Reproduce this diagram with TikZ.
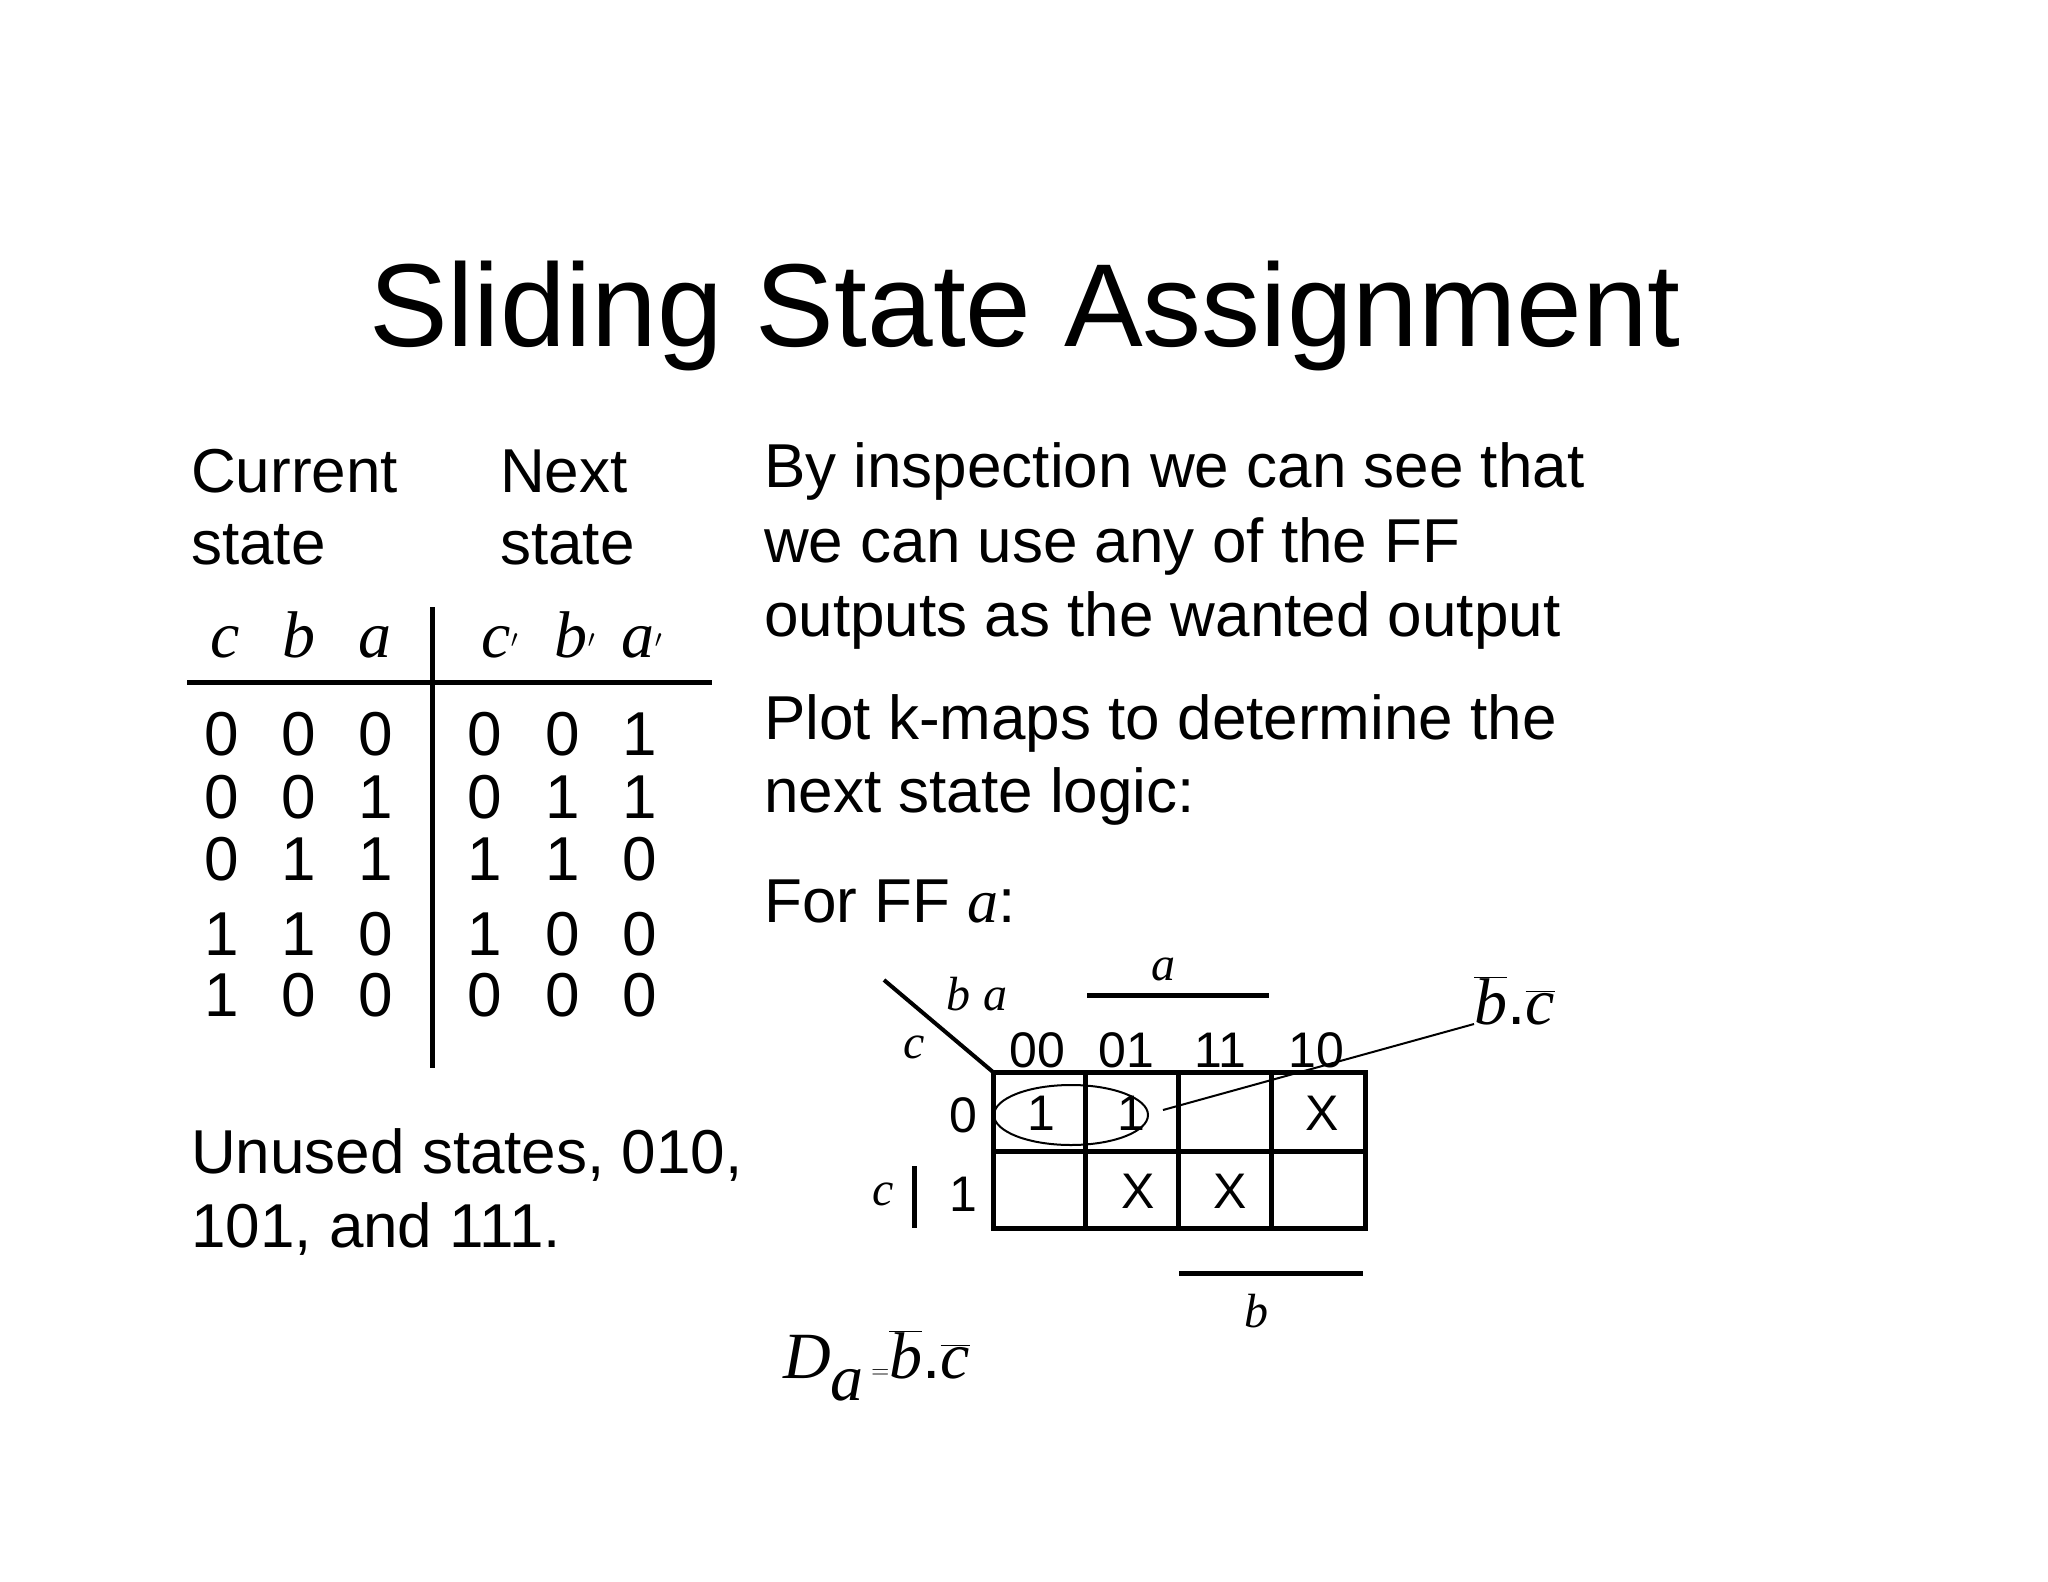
\documentclass[tikz,border=0pt]{standalone}
\usepackage{fontspec}
\setmainfont{Liberation Sans}
\newfontfamily\tms{Liberation Serif}
\newcommand{\iv}[1]{{\tms\itshape #1}}
\newcommand{\ov}[1]{$\overline{\hbox{\iv{#1}}}$}
\begin{document}
\begin{tikzpicture}[x=1pt,y=-1pt,
  body/.style={font=\fontsize{62}{74}\selectfont,anchor=base west,inner sep=0},
  dig/.style={font=\fontsize{62}{74}\selectfont,anchor=base,inner sep=0},
  mth/.style={font=\fontsize{66}{74}\selectfont,anchor=base,inner sep=0},
  sml/.style={font=\fontsize{48}{58}\selectfont,anchor=base,inner sep=0},
  km/.style={font=\fontsize{50}{58}\selectfont,anchor=base,inner sep=0},
  thick3/.style={line width=5pt}]
\useasboundingbox (0,0) rectangle (2048,1582);
\fill[white] (0,0) rectangle (2048,1582);
\node[font=\fontsize{118}{130}\selectfont,anchor=base,inner sep=0] (title) at (1025,346) {Sliding State Assignment};
\node[body] (cur1) at (191,492) {Current};
\node[body] (cur2) at (191,564) {state};
\node[body] (nx1) at (500,492) {Next};
\node[body] (nx2) at (500,564) {state};
\node[mth] (hc) at (225,657) {\iv{c}};
\node[mth] (hb) at (299,657) {\iv{b}};
\node[mth] (ha) at (375,657) {\iv{a}};
\node[mth] (hc2) at (500,657) {\iv{c}$'$};
\node[mth] (hb2) at (575,657) {\iv{b}$'$};
\node[mth] (ha2) at (642,657) {\iv{a}$'$};
\coordinate (hl1) at (187,682); \coordinate (hl2) at (712,682);
\coordinate (vl1) at (432,607); \coordinate (vl2) at (432,1068);
\draw[thick3] (hl1) -- (hl2);
\draw[thick3] (vl1) -- (vl2);
\foreach \y/\r in {755/{0,0,0,0,0,1},818/{0,0,1,0,1,1},880/{0,1,1,1,1,0},955/{1,1,0,1,0,0},1016/{1,0,0,0,0,0}}{
  \foreach \v [count=\i] in \r {
    \pgfmathsetmacro{\xx}{{222,299,376,485,563,640}[\i-1]}
    \node[dig] (t\y-\i) at (\xx,\y) {\v};
  }
}
\node[body] (r1) at (764,487) {By inspection we can see that};
\node[body] (r2) at (764,562) {we can use any of the FF};
\node[body] (r3) at (764,636) {outputs as the wanted output};
\node[body] (r4) at (764,739) {Plot k-maps to determine the};
\node[body] (r5) at (764,812) {next state logic:};
\node[body] (r6) at (764,922) {For FF \iv{a}:};
\node[body] (u1) at (191,1173) {Unused states, 010,};
\node[body] (u2) at (191,1247) {101, and 111.};
% k-map
\draw[thick3] (993,1072) rectangle (1365,1228);
\draw[thick3] (993,1151) -- (1365,1151);
\foreach \x in {1085,1178,1271} \draw[thick3] (\x,1072) -- (\x,1228);
\coordinate (dg1) at (884,980); \coordinate (dg2) at (993,1072);
\draw[line width=4pt] (dg1) -- (dg2);
\foreach \x/\t in {1037/00,1126/01,1220/11,1316/10} \node[km] (col\t) at (\x,1067) {\t};
\node[km] (row0) at (963,1132) {0};
\node[km] (row1) at (963,1211) {1};
\node[sml] (lba) at (977,1010) {\iv{b} \iv{a}};
\node[sml] (lc) at (914,1058) {\iv{c}};
\node[sml] (la) at (1163,980) {\iv{a}};
\draw[thick3] (1087,995) -- (1269,995);
\draw[thick3] (1179,1273) -- (1363,1273);
\node[sml] (lb) at (1256,1327) {\iv{b}};
\node[sml] (lc2) at (883,1205) {\iv{c}};
\draw[thick3] (914,1166) -- (914,1228);
\node[km] (c1) at (1041,1130) {1};
\node[km] (c2) at (1131,1130) {1};
\node[km] (c3) at (1322,1130) {X};
\node[km] (c4) at (1138,1208) {X};
\node[km] (c5) at (1230,1208) {X};
\draw[line width=2pt] (1071,1115) ellipse [x radius=77, y radius=30];
\coordinate (el) at (1163,1110);
\node[font=\fontsize{66}{74}\selectfont,anchor=base west,inner sep=0] (bc) at (1474,1024) {\ov{b}.\ov{c}};
\draw[line width=2pt] (el) -- (bc.base west);
\node[font=\fontsize{66}{74}\selectfont,anchor=base west,inner sep=0] (eq) at (783,1378) {\iv{D}$_{\hbox{\iv{a}}}=$\ov{b}.\ov{c}};
\end{tikzpicture}
\end{document}
